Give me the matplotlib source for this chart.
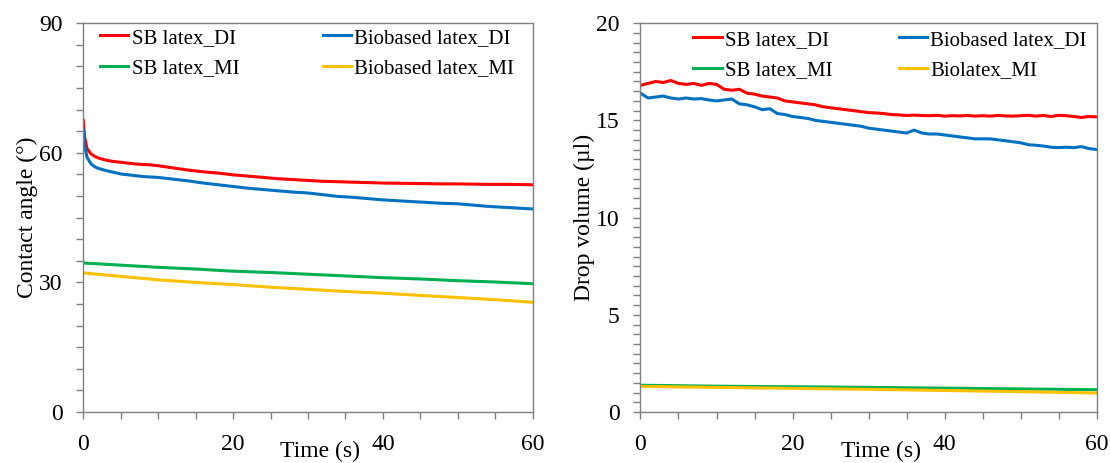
import matplotlib
matplotlib.use("Agg")
import matplotlib.pyplot as plt
from matplotlib.ticker import MultipleLocator

plt.rcParams["font.family"] = ["Liberation Serif", "DejaVu Serif"]

RED = "#ff0000"
BLUE = "#0070c0"
GREEN = "#00b050"
YELLOW = "#ffc000"
SPINE = "#808080"

# contact angle, DI curves (dense near t=0 for the fast drop)
t_ca = [0, 0.2, 0.5, 1, 1.5, 2, 3, 4, 5, 6, 7, 8, 9, 10, 12, 14, 16, 18, 20,
        22, 24, 26, 28, 30, 32, 34, 36, 38, 40, 42, 44, 46, 48, 50, 52, 54,
        56, 58, 60]
ca_sb_di = [67.5, 63.5, 61.0, 59.8, 59.2, 58.8, 58.3, 58.0, 57.8, 57.6, 57.4,
            57.3, 57.2, 57.0, 56.5, 56.0, 55.6, 55.3, 54.9, 54.6, 54.3, 54.0,
            53.8, 53.6, 53.4, 53.3, 53.2, 53.1, 53.0, 52.95, 52.9, 52.85, 52.8,
            52.8, 52.75, 52.7, 52.7, 52.65, 52.6]
ca_bio_di = [65.3, 61.5, 59.0, 57.5, 56.8, 56.4, 55.9, 55.5, 55.1, 54.9, 54.7,
             54.5, 54.4, 54.3, 53.9, 53.5, 53.0, 52.6, 52.2, 51.8, 51.5, 51.2,
             50.9, 50.7, 50.3, 49.9, 49.7, 49.4, 49.1, 48.9, 48.7, 48.5, 48.3,
             48.2, 47.9, 47.6, 47.4, 47.2, 47.0]

# contact angle, MI curves
t_ca_mi = [0, 5, 10, 15, 20, 25, 30, 35, 40, 45, 50, 55, 60]
ca_sb_mi = [34.5, 34.0, 33.5, 33.1, 32.6, 32.3, 31.9, 31.5, 31.1, 30.8, 30.4, 30.1, 29.7]
ca_bio_mi = [32.2, 31.4, 30.6, 30.0, 29.5, 28.9, 28.4, 27.9, 27.5, 27.0, 26.5, 26.0, 25.4]

# drop volume, DI curves (1 s steps)
t_vol = list(range(61))
vol_sb_di = [16.8, 16.9, 17.0, 16.95, 17.05, 16.9, 16.85, 16.9, 16.8, 16.9,
             16.85, 16.6, 16.55, 16.6, 16.4, 16.35, 16.25, 16.2, 16.15, 16.0,
             15.95, 15.9, 15.85, 15.8, 15.7, 15.65, 15.6, 15.55, 15.5, 15.45,
             15.4, 15.38, 15.35, 15.3, 15.28, 15.25, 15.27, 15.25, 15.24, 15.26,
             15.22, 15.24, 15.23, 15.25, 15.22, 15.24, 15.22, 15.25, 15.23, 15.22,
             15.24, 15.26, 15.22, 15.25, 15.2, 15.26, 15.24, 15.2, 15.15, 15.2,
             15.18]
vol_bio_di = [16.4, 16.15, 16.2, 16.25, 16.15, 16.1, 16.15, 16.1, 16.12, 16.05,
              16.0, 16.05, 16.1, 15.85, 15.8, 15.7, 15.55, 15.6, 15.35, 15.3,
              15.2, 15.15, 15.1, 15.0, 14.95, 14.9, 14.85, 14.8, 14.75, 14.7,
              14.6, 14.55, 14.5, 14.45, 14.4, 14.35, 14.5, 14.35, 14.3, 14.3,
              14.25, 14.2, 14.15, 14.1, 14.05, 14.05, 14.05, 14.0, 13.95, 13.9,
              13.85, 13.75, 13.72, 13.68, 13.62, 13.6, 13.62, 13.6, 13.65, 13.55,
              13.5]

# drop volume, MI curves
t_vol_mi = [0, 10, 20, 30, 40, 50, 60]
vol_sb_mi = [1.38, 1.33, 1.30, 1.27, 1.23, 1.19, 1.15]
vol_bio_mi = [1.32, 1.27, 1.22, 1.17, 1.11, 1.05, 0.98]

labels_left = ["SB latex_DI", "Biobased latex_DI", "SB latex_MI", "Biobased latex_MI"]
labels_right = ["SB latex_DI", "Biobased latex_DI", "SB latex_MI", "Biolatex_MI"]

fig = plt.figure(figsize=(11.1, 4.63), dpi=100)
ax1 = fig.add_axes([0.075, 0.110, 0.405, 0.840])
ax2 = fig.add_axes([0.577, 0.110, 0.411, 0.840])

lw = 2.2
l1 = ax1.plot(t_ca, ca_sb_di, color=RED, lw=lw, label=labels_left[0])
l2 = ax1.plot(t_ca, ca_bio_di, color=BLUE, lw=lw, label=labels_left[1])
l3 = ax1.plot(t_ca_mi, ca_sb_mi, color=GREEN, lw=lw, label=labels_left[2])
l4 = ax1.plot(t_ca_mi, ca_bio_mi, color=YELLOW, lw=lw, label=labels_left[3])
h_left = l1 + l3 + l2 + l4

r1 = ax2.plot(t_vol, vol_sb_di, color=RED, lw=lw, label=labels_right[0])
r2 = ax2.plot(t_vol, vol_bio_di, color=BLUE, lw=lw, label=labels_right[1])
r3 = ax2.plot(t_vol_mi, vol_sb_mi, color=GREEN, lw=lw, label=labels_right[2])
r4 = ax2.plot(t_vol_mi, vol_bio_mi, color=YELLOW, lw=lw, label=labels_right[3])
h_right = r1 + r3 + r2 + r4

for ax, handles, ymax, ymaj, ymin, ylab, lx, ly, cs in [
        (ax1, h_left, 90, 30, 5, "Contact angle (\u00b0)", 0.038, 0.987, 4.0),
        (ax2, h_right, 20, 5, 0.5, "Drop volume (\u00b5l)", 0.116, 0.982, 3.2)]:
    ax.set_xlim(0, 60)
    ax.set_ylim(0, ymax)
    ax.xaxis.set_major_locator(MultipleLocator(20))
    ax.xaxis.set_minor_locator(MultipleLocator(5))
    ax.yaxis.set_major_locator(MultipleLocator(ymaj))
    ax.yaxis.set_minor_locator(MultipleLocator(ymin))
    for s in ax.spines.values():
        s.set_color(SPINE)
        s.set_linewidth(1.0)
    ax.tick_params(which="both", direction="out", length=5, width=1.0,
                   color=SPINE, labelsize=17)
    ax.tick_params(axis="x", pad=11)
    ax.tick_params(axis="y", pad=10)
    ax.set_xlabel("Time (s)", fontsize=17)
    ax.xaxis.set_label_coords(0.527, -0.075)
    ax.set_ylabel(ylab, fontsize=17, labelpad=1)
    ax.legend(handles=handles, ncol=2, loc="upper left",
              bbox_to_anchor=(lx, ly), frameon=False, fontsize=15,
              handlelength=1.35, handletextpad=0.15, columnspacing=cs,
              labelspacing=0.52, borderpad=0, borderaxespad=0)

fig.savefig("out.png", dpi=100)
